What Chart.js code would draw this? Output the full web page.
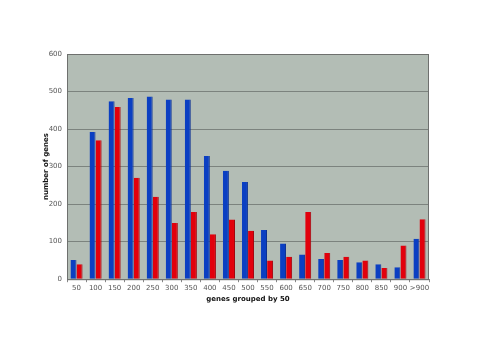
<!DOCTYPE html>
<html>
<head>
<meta charset="utf-8">
<script src="https://cdn.jsdelivr.net/npm/chart.js@4"></script>
<style>
	html, body { margin: 0; padding: 0; background: #ffffff; }
	#wrap { width: 500px; height: 353px; }
</style>
</head>
<body>
<div id="wrap"><canvas id="chart" width="500" height="353"></canvas></div>
<script>
// genes grouped by 50 - two series, no legend

const categories = ['50', '100', '150', '200', '250', '300', '350', '400', '450', '500',
	'550', '600', '650', '700', '750', '800', '850', '900', '>900']

const blueValues = [51, 392, 474, 483, 487, 479, 479, 328, 289, 259,
	131, 95, 66, 54, 51, 45, 40, 32, 108]

const redValues  = [40, 370, 459, 270, 220, 150, 179, 120, 159, 129,
	50, 60, 179, 70, 60, 50, 30, 90, 160]

const yTicks = [0, 100, 200, 300, 400, 500, 600]

const plotBg = {
	id : 'plotBg',
	beforeDraw : (chart) => {
		const { ctx, chartArea : a } = chart
		ctx.save()
		ctx.fillStyle = '#b3bdb5'
		ctx.fillRect(a.left, a.top, a.right - a.left, a.bottom - a.top)
		ctx.restore()
	},
	afterDatasetsDraw : (chart) => {
		const { ctx, chartArea : a } = chart
		ctx.save()
		ctx.strokeStyle = '#6e706e'
		ctx.lineWidth   = 1
		ctx.strokeRect(a.left + 0.5, a.top + 0.5, a.right - a.left - 1, a.bottom - a.top)
		ctx.restore()
	},
}

const labelFont = { family : 'Verdana, "DejaVu Sans", sans-serif', size : 7 }
const titleFont = { family : 'Verdana, "DejaVu Sans", sans-serif', size : 7, weight : 'bold' }

new Chart(
	document.getElementById('chart'),
	{
		type : 'bar',
		data : {
			labels   : categories,
			datasets : [
				{
					data            : blueValues,
					backgroundColor : '#0b3fc2',
					borderColor     : '#0a2f92',
					borderWidth     : { right : 1 },
					borderSkipped   : 'bottom',
				},
				{
					data            : redValues,
					backgroundColor : '#e2000c',
					borderColor     : '#a4000a',
					borderWidth     : { right : 1 },
					borderSkipped   : 'bottom',
				},
			],
		},
		options : {
			responsive : false,
			animation  : false,
			layout     : {
				padding : { left : 42, right : 71, top : 54, bottom : 50 },
			},
			plugins : {
				legend  : { display : false },
				tooltip : { enabled : false },
			},
			datasets : {
				bar : {
					categoryPercentage : 0.64,
					barPercentage      : 0.98,
				},
			},
			scales : {
				x : {
					grid : {
						display   : true,
						drawOnChartArea : false,
						drawTicks : true,
						tickLength : 3,
						color     : '#888888',
						offset    : true,
					},
					border : { display : false },
					ticks  : {
						color       : '#555555',
						font        : labelFont,
						maxRotation : 0,
						autoSkip    : false,
						padding     : 2,
					},
					title : {
						display : true,
						text    : 'genes grouped by 50',
						color   : '#111111',
						font    : titleFont,
						padding : { top : 0, bottom : 0 },
					},
				},
				y : {
					min  : 0,
					max  : 600,
					afterBuildTicks : (axis) => { axis.ticks = yTicks.map((v) => ({ value : v })) },
					afterFit : (axis) => { axis.width = 25 },
					grid : {
						color     : '#7c837e',
						drawTicks : false,
					},
					border : { display : false },
					ticks  : {
						color   : '#555555',
						font    : labelFont,
						padding : 5,
					},
					title : {
						display : true,
						text    : 'number of genes',
						color   : '#111111',
						font    : titleFont,
						padding : { top : 0, bottom : 0 },
					},
				},
			},
		},
		plugins : [plotBg],
	}
)
</script>
</body>
</html>
